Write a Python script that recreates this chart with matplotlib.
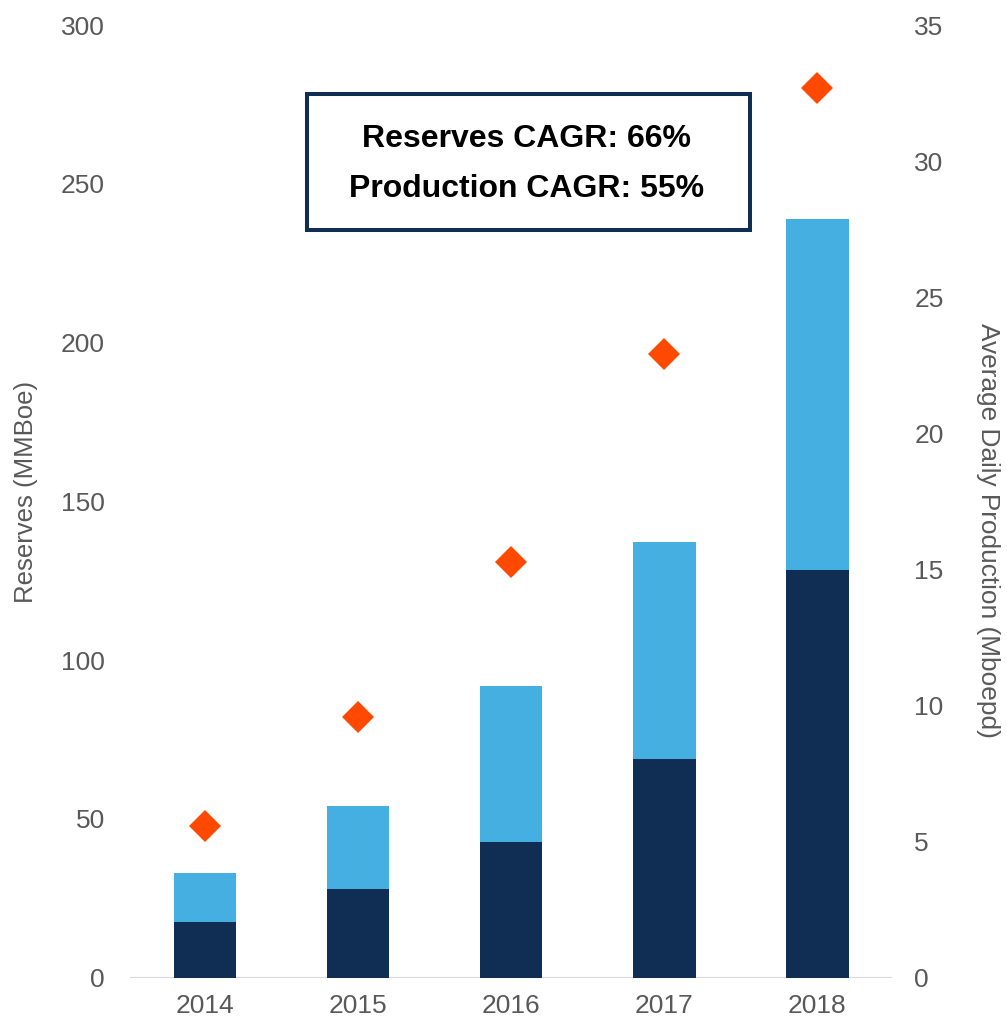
import matplotlib
matplotlib.use("Agg")
import matplotlib.pyplot as plt
from matplotlib.patches import Rectangle

years = ["2014", "2015", "2016", "2017", "2018"]
proved_developed = [17.6, 28.0, 42.6, 68.9, 128.4]   # MMBoe, lower stack
total_reserves = [32.9, 54.2, 91.9, 137.1, 238.8]    # MMBoe, top of stack
daily_production = [5.58, 9.57, 15.28, 22.9, 32.7]  # Mboepd
upper_part = [t - d for t, d in zip(total_reserves, proved_developed)]

DARK = "#102d54"
LIGHT = "#46afe2"
ORANGE = "#ff4800"
GREY = "#595959"

plt.rcParams["font.family"] = ["Liberation Sans", "DejaVu Sans"]

fig = plt.figure(figsize=(10.07, 10.22), dpi=100)
ax = fig.add_axes([0.129, 0.0434, 0.757, 0.9321])
ax2 = ax.twinx()

x = list(range(len(years)))
ax.bar(x, proved_developed, width=0.41, color=DARK, zorder=2)
ax.bar(x, upper_part, width=0.41, bottom=proved_developed, color=LIGHT, zorder=2)
ax2.plot(x, daily_production, linestyle="none", marker="D", markersize=16.5,
         color=ORANGE, markeredgewidth=0, zorder=3)

ax.set_xlim(-0.49, 4.49)
ax.set_ylim(0, 300)
ax2.set_ylim(0, 35)
ax.set_yticks(range(0, 301, 50))
ax2.set_yticks(range(0, 36, 5))
ax.set_xticks(x)
ax.set_xticklabels(years)

for a in (ax, ax2):
    for side in ("left", "right", "top", "bottom"):
        a.spines[side].set_visible(False)
ax.axhline(0, color="#d9d9d9", linewidth=1.6, zorder=1)

ax.tick_params(axis="x", length=0, pad=12, labelsize=19, labelcolor=GREY)
ax.tick_params(axis="y", length=0, pad=18, labelsize=19, labelcolor=GREY)
ax2.tick_params(axis="y", length=0, pad=16, labelsize=19, labelcolor=GREY)

ax.set_ylabel("Reserves (MMBoe)", fontsize=18.5, color=GREY)
ax.yaxis.set_label_coords(-0.12, 0.51)
ax2.set_ylabel("Average Daily Production (Mboepd)", fontsize=18.9, color=GREY,
               rotation=270, va="center")
ax2.yaxis.set_label_coords(1.126, 0.469)

# CAGR call-out box
box = Rectangle((0.232, 0.7851), 0.5816, 0.1422, transform=ax.transAxes,
                facecolor="white", edgecolor=DARK, linewidth=2.9, zorder=5)
ax2.add_patch(box)
ax2.text(0.5203, 0.8803, "Reserves CAGR: 66%", transform=ax.transAxes,
         ha="center", va="center", fontsize=23, fontweight="bold", zorder=6)
ax2.text(0.5203, 0.8278, "Production CAGR: 55%", transform=ax.transAxes,
         ha="center", va="center", fontsize=23, fontweight="bold", zorder=6)

fig.savefig("out.png", dpi=100)
